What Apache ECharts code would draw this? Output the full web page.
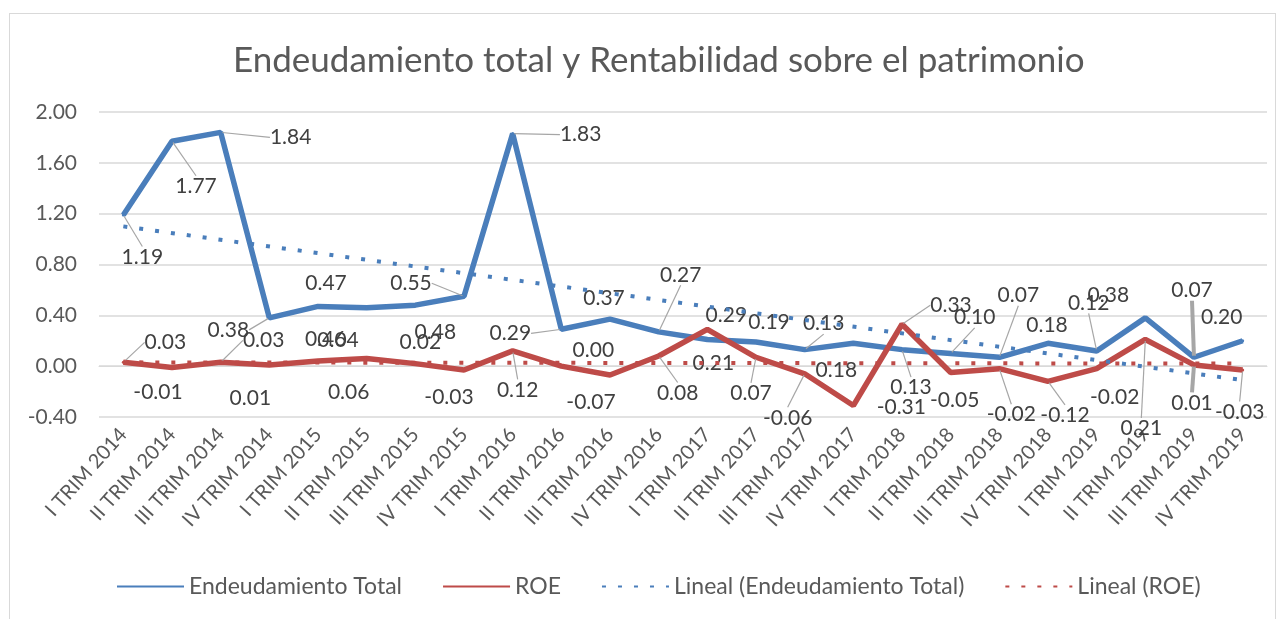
<!DOCTYPE html>
<html>
<head>
<meta charset="utf-8">
<script src="https://cdn.jsdelivr.net/npm/echarts@6/dist/echarts.min.js"></script>
<style>
  html, body { margin: 0; padding: 0; background: #fff; }
  #frame { position: absolute; left: 9px; top: 13px; width: 1265px; height: 620px; border: 1px solid #d9d9d9; }
  #chart { position: absolute; left: 0; top: 0; width: 1283px; height: 619px; }
</style>
</head>
<body>
<div id="frame"></div>
<div id="chart"></div>
<script>
// data
const categories = [
  'I TRIM 2014', 'II TRIM 2014', 'III TRIM 2014', 'IV TRIM 2014',
  'I TRIM 2015', 'II TRIM 2015', 'III TRIM 2015', 'IV TRIM 2015',
  'I TRIM 2016', 'II TRIM 2016', 'III TRIM 2016', 'IV TRIM 2016',
  'I TRIM 2017', 'II TRIM 2017', 'III TRIM 2017', 'IV TRIM 2017',
  'I TRIM 2018', 'II TRIM 2018', 'III TRIM 2018', 'IV TRIM 2018',
  'I TRIM 2019', 'II TRIM 2019', 'III TRIM 2019', 'IV TRIM 2019'
]
const endeudamiento = [1.19, 1.77, 1.84, 0.38, 0.47, 0.46, 0.48, 0.55, 1.83, 0.29, 0.37, 0.27,
  0.21, 0.19, 0.13, 0.18, 0.13, 0.10, 0.07, 0.18, 0.12, 0.38, 0.07, 0.20]
const roe = [0.03, -0.01, 0.03, 0.01, 0.04, 0.06, 0.02, -0.03, 0.12, 0.00, -0.07, 0.08,
  0.29, 0.07, -0.06, -0.31, 0.33, -0.05, -0.02, -0.12, -0.02, 0.21, 0.01, -0.03]
// trend line ends (first and last quarter)
const trendEndeudamiento = [1.10, -0.11]
const trendRoe = [0.03, 0.02]

// label offsets from each point (px), and which labels get a leader line
const offE = [[19,42],[24,45],[70,5],[-41,12],[8,-23],[-41,32],[20,27],[-53,-13],[68,1],[-51,4],[-6,-21],[22,-57],
  [6,24],[13,-20],[19,-26],[-17,27],[9,38],[24,-36],[19,-62],[-1,-18],[-8,-48],[-37,-23],[-2,-67],[-21,-24]]
const offR = [[42,-20],[-14,25],[43,-22],[-19,33],[20,-21],[-18,34],[5,-21],[-15,27],[5,39],[32,-16],[-19,27],[19,37],
  [19,-14],[-5,36],[-17,44],[48,2],[49,-19],[4,28],[12,46],[17,34],[18,29],[-4,89],[-2,38],[-3,42]]
const leadE = [0, 1, 2, 3, 7, 8, 9, 11, 14, 16, 17, 18, 20, 22]
const leadR = [0, 2, 8, 11, 13, 14, 16, 18, 19, 21, 22, 23]

const BLUE = '#4a7ebb'
const RED = '#be4b48'
const FONT = 'Lato, "Open Sans", sans-serif'

function points (values, leaders) {
  return values.map((v, i) => ({
    value: v,
    labelLine: {
      show: leaders.includes(i),
      lineStyle: { color: '#a6a6a6', width: i === 22 ? 4 : 1.2 }
    }
  }))
}

const dataLabel = {
  show: true,
  position: 'inside',
  fontFamily: FONT,
  fontSize: 21,
  color: '#404040',
  formatter: p => p.value.toFixed(2)
}

const chart = echarts.init(document.getElementById('chart'))
chart.setOption({
  animation: false,
  title: {
    text: 'Endeudamiento total y Rentabilidad sobre el patrimonio',
    left: 228,
    top: 38,
    textStyle: { fontFamily: FONT, fontSize: 35, fontWeight: 'normal', color: '#595959' }
  },
  legend: {
    bottom: 16,
    left: 111,
    itemWidth: 67,
    itemHeight: 5,
    itemGap: 40,
    itemStyle: { opacity: 0 },
    textStyle: { fontFamily: FONT, fontSize: 23, color: '#595959' },
    data: ['Endeudamiento Total', 'ROE', 'Lineal (Endeudamiento Total)', 'Lineal (ROE)']
  },
  grid: { left: 99, right: 16, top: 112, bottom: 202 },
  xAxis: {
    type: 'category',
    data: categories,
    boundaryGap: true,
    axisLine: { lineStyle: { color: '#d9d9d9' } },
    axisTick: { show: false },
    axisLabel: { rotate: 48, fontFamily: FONT, fontSize: 20, color: '#595959', margin: 14, interval: 0 }
  },
  yAxis: {
    type: 'value',
    min: -0.4,
    max: 2.0,
    interval: 0.4,
    axisLine: { show: false },
    axisTick: { show: false },
    splitLine: { lineStyle: { color: '#d9d9d9', width: 1.5 } },
    axisLabel: { fontFamily: FONT, fontSize: 21, color: '#595959', margin: 22, formatter: v => v.toFixed(2) }
  },
  series: [
    {
      name: 'Endeudamiento Total',
      type: 'line',
      data: points(endeudamiento, leadE),
      symbol: 'circle',
      symbolSize: 3,
      itemStyle: { color: BLUE },
      lineStyle: { color: BLUE, width: 5.5 },
      label: dataLabel,
      labelLayout: p => ({ dx: offE[p.dataIndex][0], dy: offE[p.dataIndex][1] }),
      z: 2
    },
    {
      name: 'ROE',
      type: 'line',
      data: points(roe, leadR),
      symbol: 'circle',
      symbolSize: 3,
      itemStyle: { color: RED },
      lineStyle: { color: RED, width: 5.5 },
      label: dataLabel,
      labelLayout: p => ({ dx: offR[p.dataIndex][0], dy: offR[p.dataIndex][1] }),
      z: 3
    },
    {
      name: 'Lineal (Endeudamiento Total)',
      type: 'line',
      data: [[0, trendEndeudamiento[0]], [categories.length - 1, trendEndeudamiento[1]]],
      symbol: 'none',
      itemStyle: { color: BLUE },
      lineStyle: { color: BLUE, width: 4, type: [4, 12], cap: 'butt' },
      z: 4
    },
    {
      name: 'Lineal (ROE)',
      type: 'line',
      data: [[0, trendRoe[0]], [categories.length - 1, trendRoe[1]]],
      symbol: 'none',
      itemStyle: { color: RED },
      lineStyle: { color: RED, width: 4, type: [4, 12], cap: 'butt' },
      z: 4
    }
  ]
})
window.addEventListener('resize', () => chart.resize())
</script>
</body>
</html>
